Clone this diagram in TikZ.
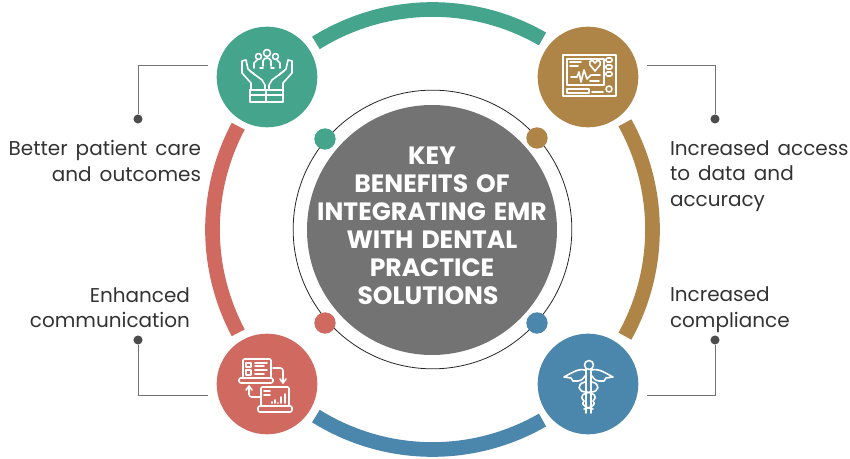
\documentclass[tikz,border=0pt]{standalone}
\usepackage{fontspec}
\setmainfont{Poppins}[WordSpace=1.5]
\definecolor{tealc}{HTML}{45A58C}
\definecolor{brownc}{HTML}{AE8546}
\definecolor{redc}{HTML}{D0695F}
\definecolor{bluec}{HTML}{4B86AC}
\definecolor{grayc}{HTML}{737373}
\definecolor{textc}{HTML}{333333}
\begin{document}
\begin{tikzpicture}
  [x=.75pt,y=-.75pt,
   every node/.style={inner sep=0pt,outer sep=0pt},
   big/.style={circle,minimum size=75.5pt},
   dot/.style={circle,minimum size=16pt},
   pin/.style={circle,fill=black!70,minimum size=6.8pt},
   leader/.style={draw=black!55,line width=.7pt},
   band/.style={line width=11pt},
   ico/.style={draw=white,line width=1.2pt,line join=round,line cap=round},
   lblleft/.style={text=textc,font=\fontsize{15}{19.2}\selectfont,align=left,anchor=west},
   lblright/.style={text=textc,font=\fontsize{15}{19}\selectfont,align=right,anchor=east}]
  \useasboundingbox (0,0) rectangle (850,459);
  % ring and hub
  \node[circle,draw=black!85,line width=.6pt,minimum size=209pt] (ring) at (432.5,229.5) {};
  \node[circle,fill=grayc,minimum size=187.5pt] (hub) at (432,230) {};
  \node[text=white,align=center,font=\fontsize{18.8}{21}\selectfont\bfseries] (title) at (432,225.5)
    {KEY\\BENEFITS OF\\INTEGRATING EMR\\WITH DENTAL\\PRACTICE\\SOLUTIONS\ \ };
  % bands
  \foreach \first/\last/\col in {122/60/tealc,29/-29/brownc,-122/-60/bluec,152/208/redc}
    \draw[band,\col] ([shift={(\first:165pt)}]ring.center) arc[start angle=\first,end angle=\last,radius=165pt];
  % big circles
  \node[big,fill=tealc] (care) at (267,77) {};
  \node[big,fill=brownc] (access) at (588,77) {};
  \node[big,fill=redc] (comm) at (267,384) {};
  \node[big,fill=bluec] (comply) at (588,384) {};
  % small dots
  \node[dot,fill=tealc] (d1) at (325,139) {};
  \node[dot,fill=brownc] (d2) at (537,138) {};
  \node[dot,fill=redc] (d3) at (325,323) {};
  \node[dot,fill=bluec] (d4) at (537,323) {};
  % leaders
  \node[pin] (p1) at (138,119) {};
  \node[pin] (p2) at (715,119) {};
  \node[pin] (p3) at (138,340) {};
  \node[pin] (p4) at (715,340) {};
  \coordinate (s1) at (208,65);
  \coordinate (s2) at (647,65);
  \coordinate (s3) at (208,395);
  \coordinate (s4) at (647,395);
  \foreach \source/\dest in {s1/p1,s2/p2,s3/p3,s4/p4}
    \draw[leader] (\source) -| (\dest);
  % labels
  \node[lblright] (t1) at (201,161) {Better patient care\\and outcomes};
  \node[lblleft] (t2) at (670,176) {Increased access\\to data and\\accuracy};
  \node[lblright] (t3) at (190,308) {Enhanced\\communication};
  \node[lblleft] (t4) at (670,310) {Increased\\compliance};
  % hands icon
  \begin{scope}[shift={(care.center)}]
    \draw[ico] (-17,13) rectangle (16,25) (-1,13) -- (-1,25) (-17,18) -- (16,18);
    \foreach \s in {1,-1} {
      \begin{scope}[xscale=\s]
      \draw[ico] (-16,13) -- (-16,6) -- (-25,-4) -- (-25,-16) -- (-21,-17) -- (-19,-8) -- (-12,-2);
      \draw[ico] (-17,-6) -- (-5,3) -- (-2,8) -- (-2,13);
      \draw[ico] (-8.5,-20.5) circle (3);
      \draw[ico] (-13,-9) -- (-13,-14) -- (-10,-17);
      \draw[ico] (-4,-11) -- (-4,-16);
      \end{scope}
    }
    \draw[ico] (0,-24) circle (3.5);
    \draw[ico] (-7,-9) -- (-4,-9) (4,-9) -- (7,-9) (-4,-16) .. controls (-3,-20) and (3,-20) .. (4,-16);
  \end{scope}
  % monitor icon
  \begin{scope}[shift={(access.center)}]
    \draw[ico] (-25,-22) rectangle (28,19);
    \draw[ico] (-21,-18) rectangle (16,8);
    \draw[ico] (-21,12) rectangle (1,16);
    \draw[ico] (4,15) -- (15,15) (-18,-15) -- (-7,-15) (-18,-11) -- (-10,-11);
    \draw[ico] (-17,0) -- (-11,0) -- (-9,-5) -- (-7,5) -- (-4,-7) -- (-1,2) -- (3,-2) -- (12,-2);
    \draw[ico] (2,4) -- (11,4);
    \draw[ico] (7,-6) -- (2,-12) .. controls (0,-17) and (5,-18) .. (7,-14) .. controls (9,-18) and (14,-17) .. (12,-12) -- cycle;
    \foreach \y in {-17,-10,-3}
      \draw[ico,rounded corners=1pt] (18,\y-2) rectangle (24,\y+2);
    \draw[ico] (21,12) circle (3);
  \end{scope}
  % laptops icon
  \begin{scope}[shift={(comm.center)}]
    \draw[ico,rounded corners=1pt] (-24,-6) -- (-24,-25) -- (4,-25) -- (4,-6);
    \draw[ico,rounded corners=1.5pt] (-28,-6) rectangle (6,-1);
    \draw[ico] (-21,-21) rectangle (-16,-17) (-21,-14) rectangle (-16,-9);
    \draw[ico] (-12,-21) -- (0,-21) (-12,-18) -- (-3,-18) (-12,-14) -- (0,-14) (-12,-10) -- (-3,-10);
    \draw[ico,rounded corners=2pt] (6,-16) -- (16,-16) -- (16,-2);
    \draw[ico] (13,-5) -- (16,-1) -- (19,-5);
    \draw[ico,rounded corners=1pt] (-6,22) -- (-6,3) -- (22,3) -- (22,22);
    \draw[ico,rounded corners=1.5pt] (-9,22) rectangle (25,28);
    \draw[ico] (-3,7) -- (3,7) (-3,11) -- (3,11);
    \draw[ico,rounded corners=2pt] (-6,13) -- (-18,13) -- (-18,3);
    \draw[ico] (-21,6) -- (-18,2) -- (-15,6);
    \foreach \x/\h in {5/18,8/16,11/19,14/13,18/10}
      \draw[ico] (\x,19) -- (\x,\h);
  \end{scope}
  % staff icon
  \begin{scope}[shift={(comply.center)}]
    \draw[ico] (1,-19) circle (4.5);
    \draw[ico] (-2,-15) -- (-2,29) (3,-15) -- (3,29);
    \draw[ico] (-3,-14) .. controls (-10,-16) and (-18,-10) .. (-24,-7) -- (-17,-6) -- (-15,-3) -- (-10,-3) .. controls (-6,-4) .. (-3,-8);
    \draw[ico] (4,-14) .. controls (11,-16) and (19,-10) .. (25,-7) -- (18,-6) -- (16,-3) -- (11,-3) .. controls (7,-4) .. (4,-8);
    \draw[ico] (-3,-2) .. controls (-12,0) and (-10,8) .. (-2,8) .. controls (6,9) and (10,12) .. (5,17);
    \draw[ico] (4,-2) .. controls (13,0) and (11,8) .. (3,8) .. controls (-5,9) and (-9,12) .. (-4,17);
    \draw[ico] (-4,17) .. controls (-8,22) and (0,24) .. (5,25) (5,17) .. controls (9,22) and (1,24) .. (-4,25);
  \end{scope}
\end{tikzpicture}
\end{document}
